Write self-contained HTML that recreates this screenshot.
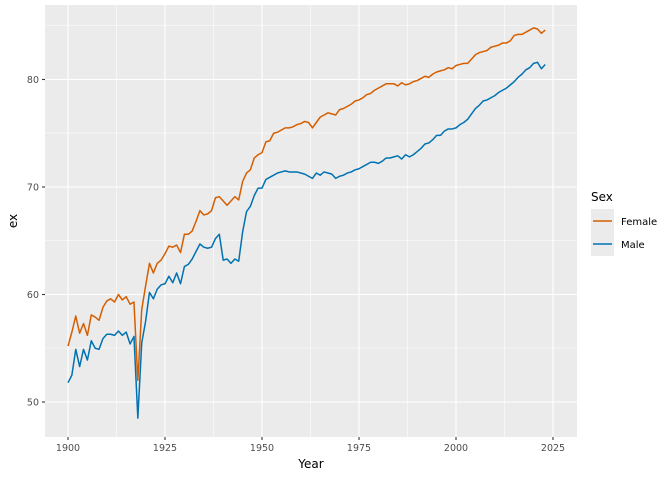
<!DOCTYPE html>
<html><head><meta charset="utf-8"><style>
body{margin:0;background:#fff;}
svg text{font-family:"DejaVu Sans","Liberation Sans",sans-serif;}
</style></head><body>
<svg width="672" height="480" viewBox="0 0 672 480" xmlns="http://www.w3.org/2000/svg">
<rect x="45" y="5" width="532" height="432" fill="#EBEBEB"/>
<g stroke="#fff" stroke-width="0.55">
<line x1="45" x2="577" y1="348" y2="348"/><line x1="45" x2="577" y1="240.5" y2="240.5"/><line x1="45" x2="577" y1="133" y2="133"/><line x1="45" x2="577" y1="25.75" y2="25.75"/>
<line y1="5" y2="437" x1="116.5" x2="116.5"/><line y1="5" y2="437" x1="213.5" x2="213.5"/><line y1="5" y2="437" x1="310.5" x2="310.5"/><line y1="5" y2="437" x1="407.5" x2="407.5"/><line y1="5" y2="437" x1="504.5" x2="504.5"/>
</g>
<g stroke="#fff" stroke-width="1.1">
<line x1="45" x2="577" y1="402" y2="402"/><line x1="45" x2="577" y1="294.5" y2="294.5"/><line x1="45" x2="577" y1="187" y2="187"/><line x1="45" x2="577" y1="79.5" y2="79.5"/>
<line y1="5" y2="437" x1="68" x2="68"/><line y1="5" y2="437" x1="165" x2="165"/><line y1="5" y2="437" x1="262" x2="262"/><line y1="5" y2="437" x1="359" x2="359"/><line y1="5" y2="437" x1="456" x2="456"/><line y1="5" y2="437" x1="553" x2="553"/>
</g>
<g transform="translate(68,402) scale(3.88,-10.75)" fill="none" stroke-width="1.5" stroke-linejoin="round">
<polyline vector-effect="non-scaling-stroke" stroke="#D55E00" points="0,5.2 1,6.5 2,8 3,6.4 4,7.3 5,6.2 6,8.1 7,7.9 8,7.6 9,8.8 10,9.4 11,9.6 12,9.3 13,10 14,9.5 15,9.8 16,9.1 17,9.3 18,2 19,8.6 20,10.8 21,12.9 22,12 23,12.9 24,13.2 25,13.8 26,14.5 27,14.4 28,14.6 29,13.9 30,15.6 31,15.6 32,15.9 33,16.8 34,17.8 35,17.4 36,17.5 37,17.8 38,19 39,19.1 40,18.7 41,18.3 42,18.7 43,19.1 44,18.8 45,20.5 46,21.3 47,21.6 48,22.7 49,23 50,23.2 51,24.2 52,24.3 53,25 54,25.1 55,25.3 56,25.5 57,25.5 58,25.6 59,25.8 60,25.9 61,26.1 62,26 63,25.5 64,26 65,26.5 66,26.7 67,26.9 68,26.8 69,26.7 70,27.2 71,27.3 72,27.5 73,27.7 74,28 75,28.1 76,28.3 77,28.6 78,28.7 79,29 80,29.2 81,29.4 82,29.6 83,29.6 84,29.6 85,29.4 86,29.7 87,29.5 88,29.6 89,29.8 90,29.9 91,30.1 92,30.3 93,30.2 94,30.5 95,30.7 96,30.8 97,30.9 98,31.1 99,31 100,31.3 101,31.4 102,31.5 103,31.5 104,31.9 105,32.3 106,32.5 107,32.6 108,32.7 109,33 110,33.1 111,33.2 112,33.4 113,33.4 114,33.6 115,34.1 116,34.2 117,34.2 118,34.4 119,34.6 120,34.8 121,34.7 122,34.3 123,34.6"/>
<polyline vector-effect="non-scaling-stroke" stroke="#0072B2" points="0,1.8 1,2.5 2,4.9 3,3.3 4,4.9 5,3.9 6,5.7 7,5 8,4.9 9,5.9 10,6.3 11,6.3 12,6.2 13,6.6 14,6.2 15,6.5 16,5.4 17,6.1 18,-1.5 19,5.5 20,7.5 21,10.2 22,9.6 23,10.5 24,10.9 25,11 26,11.7 27,11.1 28,12 29,11 30,12.6 31,12.8 32,13.3 33,14 34,14.7 35,14.4 36,14.3 37,14.4 38,15.2 39,15.6 40,13.2 41,13.3 42,12.9 43,13.3 44,13.1 45,15.8 46,17.7 47,18.2 48,19.2 49,19.9 50,19.9 51,20.7 52,20.9 53,21.1 54,21.3 55,21.4 56,21.5 57,21.4 58,21.4 59,21.4 60,21.3 61,21.2 62,21 63,20.8 64,21.3 65,21.1 66,21.4 67,21.3 68,21.2 69,20.8 70,21 71,21.1 72,21.3 73,21.4 74,21.6 75,21.7 76,21.9 77,22.1 78,22.3 79,22.3 80,22.2 81,22.4 82,22.7 83,22.7 84,22.8 85,22.9 86,22.6 87,23 88,22.8 89,23 90,23.3 91,23.6 92,24 93,24.1 94,24.4 95,24.8 96,24.8 97,25.2 98,25.4 99,25.4 100,25.5 101,25.8 102,26 103,26.3 104,26.8 105,27.3 106,27.6 107,28 108,28.1 109,28.3 110,28.5 111,28.8 112,29 113,29.2 114,29.5 115,29.8 116,30.2 117,30.5 118,30.9 119,31.1 120,31.5 121,31.6 122,31 123,31.4"/>
</g>
<g stroke="#333" stroke-width="1.1">
<line x1="42" x2="45" y1="402" y2="402"/><line x1="42" x2="45" y1="294.5" y2="294.5"/><line x1="42" x2="45" y1="187" y2="187"/><line x1="42" x2="45" y1="79.5" y2="79.5"/>
<line y1="437" y2="440" x1="68" x2="68"/><line y1="437" y2="440" x1="165" x2="165"/><line y1="437" y2="440" x1="262" x2="262"/><line y1="437" y2="440" x1="359" x2="359"/><line y1="437" y2="440" x1="456" x2="456"/><line y1="437" y2="440" x1="553" x2="553"/>
</g>
<g fill="#4D4D4D" font-size="9.5" text-anchor="end">
<text x="39" y="405.5">50</text><text x="39" y="298">60</text><text x="39" y="190.5">70</text><text x="39" y="83">80</text>
</g>
<g fill="#4D4D4D" font-size="9.5" text-anchor="middle">
<text x="68" y="451">1900</text><text x="165" y="451">1925</text><text x="262" y="451">1950</text><text x="359" y="451">1975</text><text x="456" y="451">2000</text><text x="553" y="451">2025</text>
</g>
<text x="311" y="468" font-size="12" text-anchor="middle" fill="#000">Year</text>
<text transform="translate(17,221) rotate(-90)" font-size="12" text-anchor="middle" fill="#000">ex</text>
<text x="591" y="201" font-size="12" fill="#000">Sex</text>
<rect x="591" y="209" width="23" height="47" fill="#EBEBEB"/>
<line x1="593" x2="612" y1="221" y2="221" stroke="#D55E00" stroke-width="1.5"/>
<line x1="593" x2="612" y1="244" y2="244" stroke="#0072B2" stroke-width="1.5"/>
<text x="621" y="225" font-size="10" fill="#000">Female</text>
<text x="621" y="248" font-size="10" fill="#000">Male</text>
</svg>
</body></html>
